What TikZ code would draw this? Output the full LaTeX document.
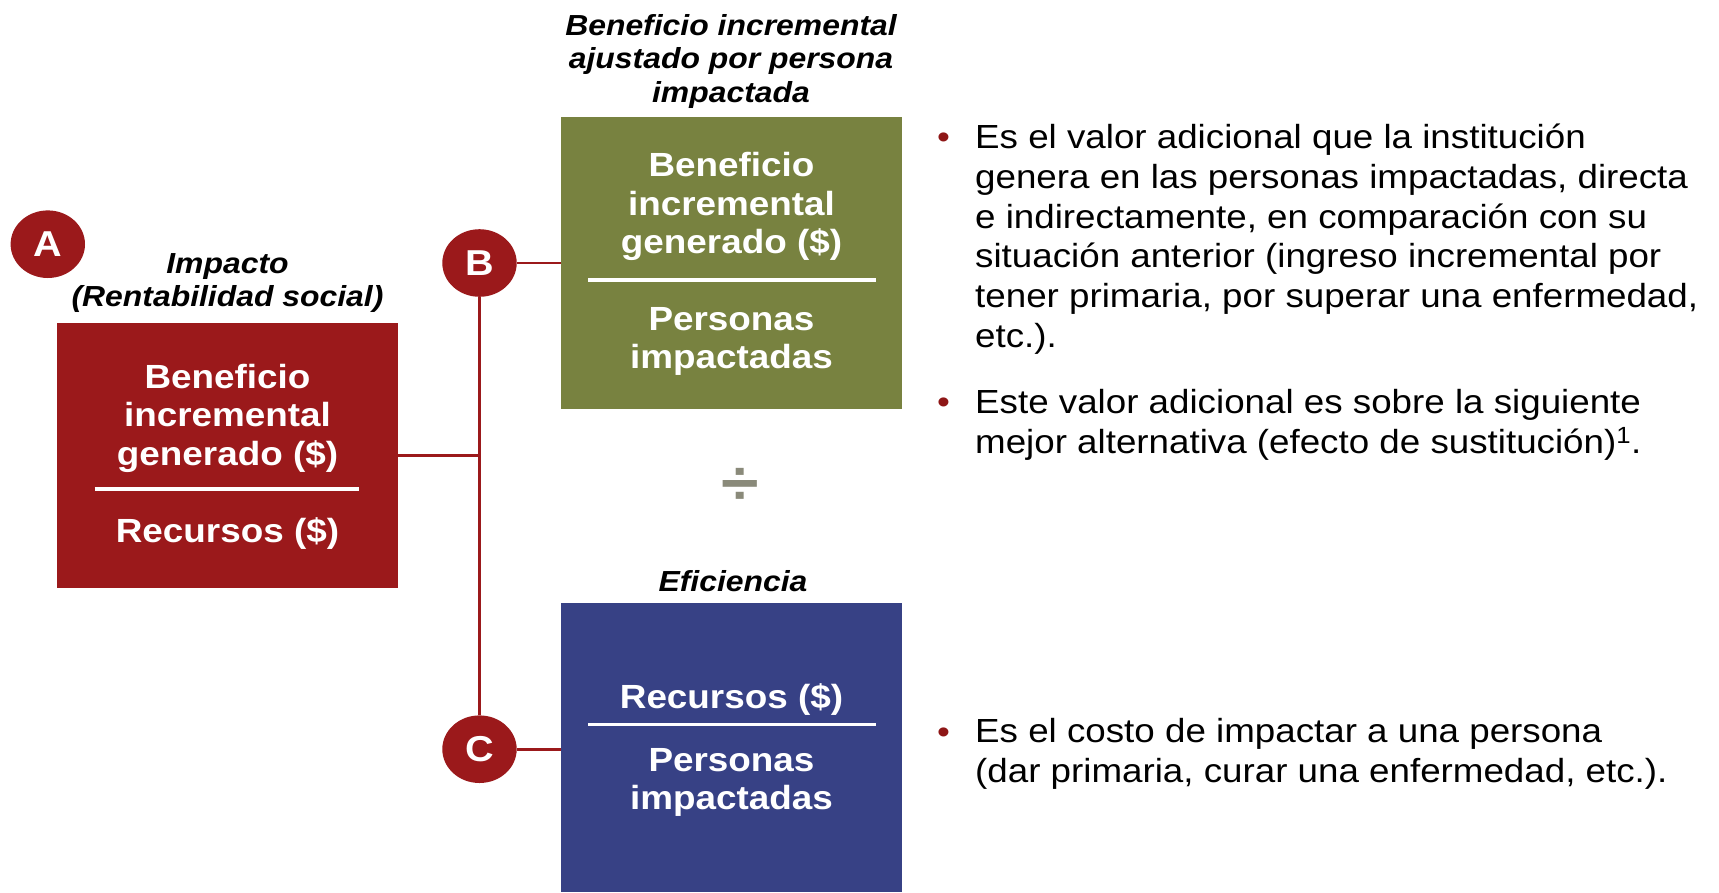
\documentclass[tikz,border=0pt]{standalone}
\usepackage{fontspec}
\setmainfont{Liberation Sans}[FakeStretch=1.1]
\usetikzlibrary{shapes.geometric}
\definecolor{cred}{HTML}{9B191B}
\definecolor{bulred}{HTML}{8E1616}
\definecolor{cgreen}{HTML}{788240}
\definecolor{cblue}{HTML}{374185}
\definecolor{cgray}{HTML}{8A8A7A}
\begin{document}
\begin{tikzpicture}[x=1pt,y=-1pt,
  conn/.style={draw=cred,line width=2.7pt},
  boxnode/.style={rectangle,inner sep=0pt,minimum width=341pt},
  letter/.style={ellipse,fill=cred,text=white,minimum width=74.4pt,minimum height=67.6pt,inner sep=0pt,font={\fontsize{36}{36}\selectfont\bfseries}},
  boxtxt/.style={text=white,align=center,anchor=base,inner sep=0pt,font={\fontsize{33.5}{38.2}\selectfont\bfseries}},
  ttl/.style={align=center,anchor=base,inner sep=0pt,font={\fontsize{29}{33.5}\selectfont\bfseries\itshape}},
  body/.style={align=left,anchor=base west,inner sep=0pt,font={\fontsize{33.4}{39.8}\selectfont}},
  bul/.style={anchor=base west,inner sep=0pt,text=bulred,font={\fontsize{33.4}{39.8}\selectfont}},
  fracrule/.style={draw=white,line width=3.2pt}
]
\useasboundingbox (0,0) rectangle (1719,892);

% boxes (multi-line nodes: base anchor = baseline of last line)
\node[boxnode,fill=cred,minimum height=265pt] (impacto) at (227.5,455.5) {};
\node[boxtxt] (impnum) at (227.5,465) {Beneficio\\incremental\\generado (\$)};
\draw[fracrule] (94.6,489) -- (359,489);
\node[boxtxt] (impden) at (227.5,542.7) {Recursos (\$)};

\node[boxnode,fill=cgreen,minimum height=291.7pt] (benef) at (731.5,262.85) {};
\node[boxtxt] (bennum) at (731.5,253.3) {Beneficio\\incremental\\generado (\$)};
\draw[fracrule] (588.3,280) -- (875.7,280);
\node[boxtxt] (benden) at (731.5,368.3) {Personas\\impactadas};

\node[boxnode,fill=cblue,minimum height=288.7pt] (efic) at (731.5,747.65) {};
\node[boxtxt] (efnum) at (731.5,708.3) {Recursos (\$)};
\draw[fracrule] (588.3,724.3) -- (875.7,724.3);
\node[boxtxt] (efden) at (731.5,809.3) {Personas\\impactadas};

% titles
\node[ttl] (t1) at (731,102) {Beneficio incremental\\ajustado por persona\\impactada};
\node[ttl] (t2) at (227.5,306.7) {Impacto\\(Rentabilidad social)};
\node[ttl] (t3) at (733,591.7) {Eficiencia};

% letters
\node[letter] (A) at (47.8,244.2) {A};
\node[letter] (B) at (479.5,263) {B};
\node[letter] (C) at (479.5,749.2) {C};

% connectors
\draw[conn] (B.south) -- (C.north);
\draw[conn] (impacto.east) -- (impacto.east -| B.south);
\draw[conn] (B.east) -- (B.east -| benef.west);
\draw[conn] (C.east) -- (C.east -| efic.west);

% divide sign
\node[text=cgray,inner sep=0pt,font={\fontsize{62}{62}\selectfont\bfseries}] (div) at (740.5,486) {÷};

% right text
\node[bul] (b1) at (937,148.5) {•};
\node[body] (p1) at (975,347.5) {Es el valor adicional que la institución\\genera en las personas impactadas, directa\\e indirectamente, en comparación con su\\situación anterior (ingreso incremental por\\tener primaria, por superar una enfermedad,\\etc.).};
\node[bul] (b2) at (937,413) {•};
\node[body] (p2) at (975,453) {Este valor adicional es sobre la siguiente\\mejor alternativa (efecto de sustitución)\textsuperscript{1}.};
\node[bul] (b3) at (937,743) {•};
\node[body] (p3) at (975,782) {Es el costo de impactar a una persona\\(dar primaria, curar una enfermedad, etc.).};
\end{tikzpicture}
\end{document}
